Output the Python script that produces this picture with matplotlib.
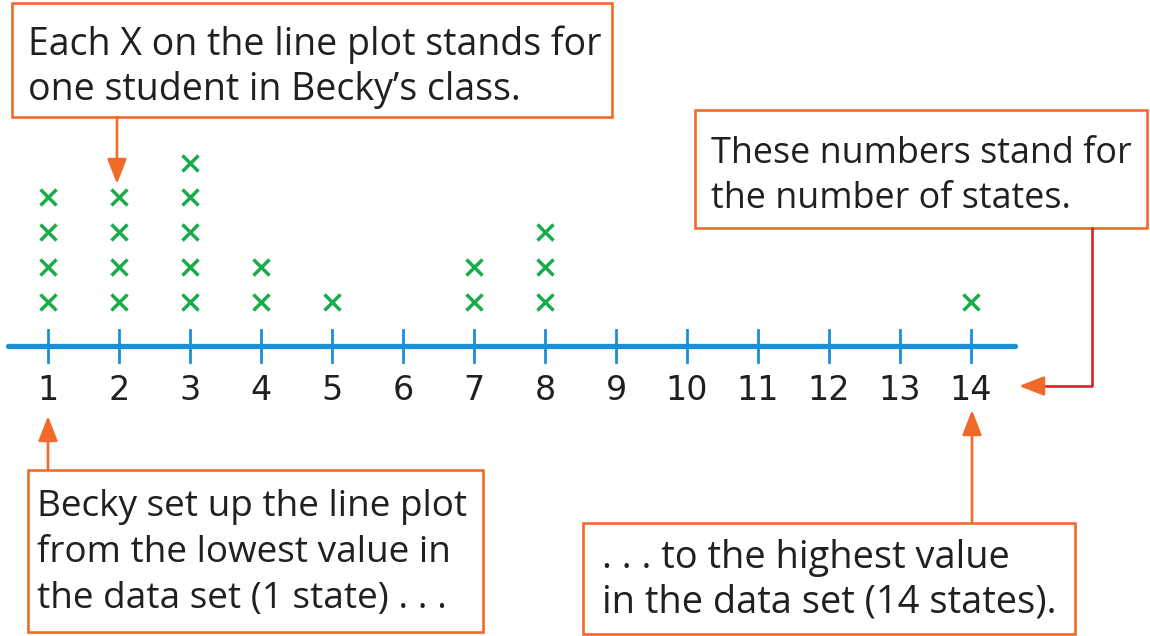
import matplotlib
matplotlib.use("Agg")
import matplotlib.pyplot as plt
import matplotlib.transforms as mtransforms
from matplotlib.patches import Rectangle, FancyArrowPatch
from matplotlib.lines import Line2D

# ---- data ----
values = [1, 2, 3, 4, 5, 6, 7, 8, 9, 10, 11, 12, 13, 14]
counts = [4, 4, 5, 2, 1, 0, 2, 3, 0, 0, 0, 0, 0, 1]
tick_labels = [str(v) for v in values]
note_top = ["Each X on the line plot stands for", "one student in Becky\u2019s class."]
note_right = ["These numbers stand for", "the number of states."]
note_low = ["Becky set up the line plot", "from the lowest value in", "the data set (1 state) . . ."]
note_high = [". . . to the highest value", "in the data set (14 states)."]

W, H = 1150, 636
ORANGE = "#f26a2a"
RED = "#e3202c"
BLUE = "#1b8fd6"
GREEN = "#1aab4b"
TXT = "#231f20"
FONT = "Open Sans"

fig = plt.figure(figsize=(W / 100, H / 100), dpi=100)
ax = fig.add_axes([0, 0, 1, 1])
ax.set_axis_off()
ax.set_xlim(1 - 48 / 71, 1 + (W - 48) / 71)
ax.set_ylim(-(H - 346) / 34.7, 346 / 34.7)

PX = mtransforms.Affine2D().scale(1 / W, -1 / H).translate(0, 1) + fig.transFigure

# number line
ax.plot([values[0] - 40 / 71, values[-1] + 44 / 71], [0, 0], color=BLUE, lw=3.8,
        solid_capstyle="round", zorder=2)
for v, lab in zip(values, tick_labels):
    ax.plot([v, v], [-16 / 34.7, 16 / 34.7], color=BLUE, lw=2.0, zorder=2)
    ax.text(v, -44 / 34.7, lab, ha="center", va="center", fontsize=24,
            color=TXT, family="DejaVu Sans")

# X marks
xs, ys = [], []
for v, c in zip(values, counts):
    for k in range(1, c + 1):
        xs.append(v)
        ys.append(k + 0.28)
ax.plot(xs, ys, linestyle="none", marker="x", markersize=11.5, mew=2.5, color=GREEN, zorder=3)

renderer = fig.canvas.get_renderer()


def box(x0, y0, x1, y1, lines, tx, base0, step, target_w):
    ax.add_patch(Rectangle((x0, y0), x1 - x0, y1 - y0, transform=PX, fill=False,
                           edgecolor=ORANGE, lw=1.9, zorder=4))
    texts = [ax.text(tx, base0 + i * step, s, transform=PX, ha="left", va="baseline",
                     fontsize=24, color=TXT, family=FONT, zorder=5)
             for i, s in enumerate(lines)]
    widest = max(t.get_window_extent(renderer).width for t in texts)
    size = 24 * target_w / widest
    for t in texts:
        t.set_fontsize(size)


def arrow(x0, y0, x1, y1, color=ORANGE):
    a = FancyArrowPatch(posA=(x0, y0), posB=(x1, y1), transform=PX,
                        arrowstyle="-|>,head_length=0.9,head_width=0.35",
                        mutation_scale=17, color=color, lw=1.9, shrinkA=0, shrinkB=0, zorder=4)
    ax.add_patch(a)


box(12, 3, 612, 117, note_top, 28, 55, 45, 575)
arrow(117, 117, 117, 184)

box(695, 110, 1147, 228, note_right, 711, 163, 45, 421)
ax.add_line(Line2D([1092, 1092, 1040], [228, 386, 386], transform=PX, color=RED, lw=1.9, zorder=4))
arrow(1042, 386, 1019, 386)

box(28, 470, 483, 632, note_low, 37, 516, 46, 433)
arrow(48, 470, 48, 416)

box(583, 523, 1075, 634, note_high, 602, 568, 45, 455)
arrow(972, 523, 972, 410)

fig.savefig("out.png", dpi=100)
